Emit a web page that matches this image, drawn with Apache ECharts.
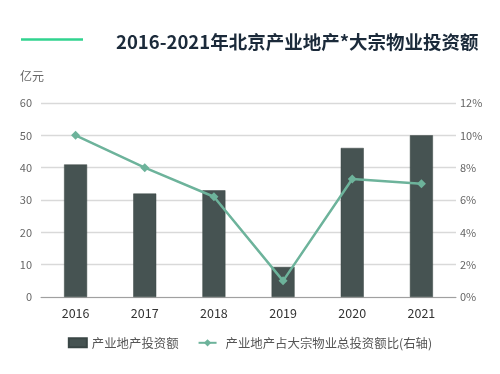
<!DOCTYPE html>
<html><head><meta charset="utf-8">
<script src="https://cdn.jsdelivr.net/npm/echarts@6/dist/echarts.min.js"></script>
<style>html,body{margin:0;padding:0;background:#fff}#c{width:500px;height:374px}</style>
</head><body><div id="c"></div>
<script>
const categories = ['2016','2017','2018','2019','2020','2021'];
const investment = [41, 32, 33, 9.3, 46.1, 50];
const sharePct = [10, 8, 6.2, 1, 7.3, 7];
const titleText = '2016-2021年北京产业地产*大宗物业投资额';
const unitLabel = '亿元';
const seriesNames = ['产业地产投资额', '产业地产占大宗物业总投资额比(右轴)'];

const font = '"Noto Sans CJK SC", "Noto Sans", sans-serif';
const chart = echarts.init(document.getElementById('c'), null, {renderer: 'canvas'});
chart.setOption({
  animation: false,
  textStyle: {fontFamily: font},
  title: {
    text: titleText, left: 111, top: 28,
    textStyle: {fontSize: 18.5, fontWeight: 'bold', color: '#1b2a3a', fontFamily: font}
  },
  graphic: [
    {type: 'line', shape: {x1: 21, y1: 39.5, x2: 83, y2: 39.5}, style: {stroke: '#31d38f', lineWidth: 2.5}},
    {type: 'text', left: 20, top: 70, style: {text: unitLabel, fill: '#666', font: '12px ' + font}}
  ],
  grid: {left: 41, right: 44, top: 103, bottom: 77, containLabel: false},
  legend: {
    bottom: 20, left: 'center', itemGap: 19,
    textStyle: {color: '#555', fontSize: 12.4, fontFamily: font},
    data: [
      {name: seriesNames[0], icon: 'rect', itemStyle: {color: '#465352'}},
      {name: seriesNames[1], textStyle: {padding: [0, 0, 0, 4]}}
    ],
    itemWidth: 18, itemHeight: 9
  },
  xAxis: {
    type: 'category', data: categories,
    axisTick: {show: false},
    axisLine: {lineStyle: {color: '#a0a0a0', width: 1}},
    axisLabel: {color: '#333', fontSize: 12.5, margin: 10}
  },
  yAxis: [
    {type: 'value', min: 0, max: 60, interval: 10,
     axisLabel: {color: '#666', fontSize: 11, margin: 9},
     splitLine: {lineStyle: {color: '#d9d9d9', width: 1.3}},
     axisLine: {show: false}, axisTick: {show: false}},
    {type: 'value', min: 0, max: 12, interval: 2,
     axisLabel: {color: '#666', fontSize: 11, margin: 4, formatter: '{value}%'},
     splitLine: {show: false}, axisLine: {show: false}, axisTick: {show: false}}
  ],
  series: [
    {name: seriesNames[0], type: 'bar', data: investment, barWidth: 23,
     itemStyle: {color: '#465352', borderColor: '#3a4645', borderWidth: 0.5}},
    {name: seriesNames[1], type: 'line', yAxisIndex: 1, data: sharePct,
     symbol: 'diamond', symbolSize: 9,
     lineStyle: {color: '#6db39b', width: 2.5},
     itemStyle: {color: '#6db39b'}}
  ]
});
</script></body></html>
